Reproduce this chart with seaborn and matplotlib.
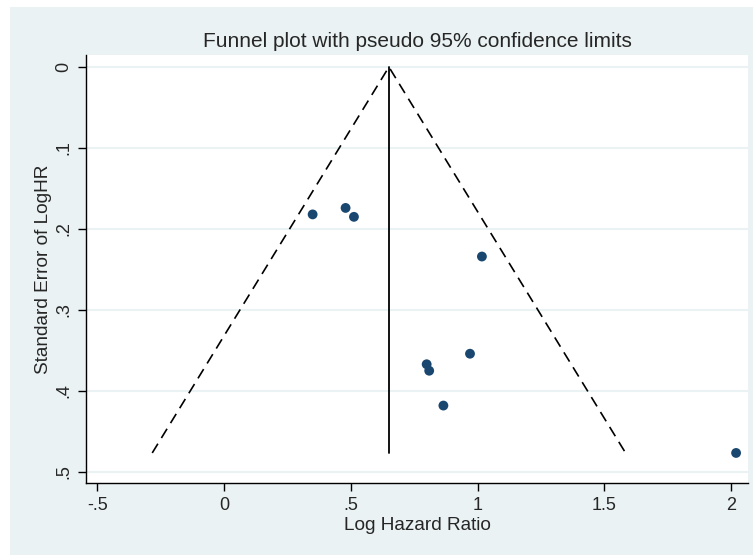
import numpy as np
import pandas as pd
import matplotlib
matplotlib.use('Agg')
import matplotlib.pyplot as plt
import seaborn as sns
from matplotlib.patches import Rectangle

# dane
log_hr = [0.349, 0.479, 0.512, 1.017, 0.970, 0.799, 0.809, 0.865, 2.020]
se_log_hr = [0.182, 0.174, 0.185, 0.234, 0.354, 0.367, 0.375, 0.418, 0.4765]
pooled = 0.650
x_ticks = [-0.5, 0, 0.5, 1, 1.5, 2]
x_tick_labels = ['-.5', '0', '.5', '1', '1.5', '2']
y_ticks = [0, 0.1, 0.2, 0.3, 0.4, 0.5]
y_tick_labels = ['0', '.1', '.2', '.3', '.4', '.5']

df = pd.DataFrame({'loghr': log_hr, 'se': se_log_hr})

sns.set_style('white')
plt.rcParams['font.family'] = ['Liberation Sans', 'DejaVu Sans']

bg = '#EAF2F3'
fig = plt.figure(figsize=(7.53, 5.55), dpi=100)
fig.patch.set_facecolor('white')
fig.patches.append(Rectangle((10 / 753, 0), 1, 548 / 555, transform=fig.transFigure,
                             facecolor=bg, edgecolor='none', zorder=-10))
ax = fig.add_axes([86 / 753, 72 / 555, 662 / 753, 428 / 555])
ax.set_facecolor('white')

# linie lejka (pseudo 95%)
se_max = max(se_log_hr)
ax.plot([pooled - 1.96 * se_max, pooled, pooled + 1.96 * se_max], [se_max, 0, se_max],
        color='black', linestyle=(0, (6.5, 4)), linewidth=1.2, zorder=2)
ax.plot([pooled, pooled], [0, se_max], color='black', linewidth=1.3, zorder=2)

sns.scatterplot(data=df, x='loghr', y='se', ax=ax, color='#1A476F', s=50,
                edgecolor='none', zorder=3)

ax.set_xlim(-0.5453, 2.067)
ax.set_ylim(0.5136, -0.0148)
ax.set_xticks(x_ticks)
ax.set_xticklabels(x_tick_labels)
ax.set_yticks(y_ticks)
ax.set_yticklabels(y_tick_labels, rotation=90, va='center')
ax.tick_params(axis='both', direction='out', length=6, width=1, color='black',
               labelsize=13, pad=4, bottom=True, left=True)
ax.grid(axis='y', color=bg, linewidth=1.5)
ax.set_axisbelow(True)
for s in ['top', 'right']:
    ax.spines[s].set_visible(False)
for s in ['left', 'bottom']:
    ax.spines[s].set_color('black')
    ax.spines[s].set_linewidth(1)

ax.set_xlabel('Log Hazard Ratio', fontsize=13.7, labelpad=2)
ax.set_ylabel('Standard Error of LogHR', fontsize=13.7, labelpad=2)
ax.set_title('Funnel plot with pseudo 95% confidence limits', fontsize=15, pad=6)

fig.savefig('out.png', dpi=100)
